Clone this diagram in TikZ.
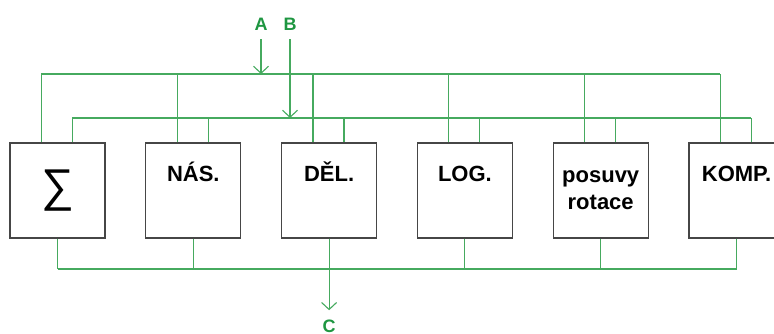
\documentclass[tikz,border=0pt]{standalone}
\usepackage{fontspec}
\setmainfont{Liberation Sans}
\usetikzlibrary{arrows.meta}
\definecolor{busgreen}{RGB}{70,170,95}
\definecolor{labgreen}{RGB}{30,150,65}
\definecolor{boxgray}{RGB}{70,70,70}
\tikzset{
  box/.style={draw=boxgray, line width=1.3pt, minimum width=95pt, minimum height=95pt, inner sep=0pt},
  lbl/.style={font=\fontsize{22}{27}\selectfont\bfseries, anchor=base, align=center, inner sep=0pt},
  siglbl/.style={font=\fontsize{46}{46}\selectfont, inner sep=0pt},
  bus/.style={draw=busgreen, line width=1.1pt},
  arr/.style={bus, -{Straight Barb[length=7pt,width=15pt]}},
  io/.style={font=\fontsize{18}{18}\selectfont\bfseries, text=labgreen, anchor=base, inner sep=3pt}
}
\begin{document}
\begin{tikzpicture}[x=1pt,y=-1pt]
\useasboundingbox (0,0) rectangle (774,333);
\clip (0,0) rectangle (774,333);
% boxes
\node[box] (s1) at (57.5,190.5) {};
\node[box] (s2) at (193.3,190.5) {};
\node[box] (s3) at (329.1,190.5) {};
\node[box] (s4) at (464.9,190.5) {};
\node[box] (s5) at (600.7,190.5) {};
\node[box] (s6) at (736.5,190.5) {};
% labels
\node[siglbl] (t1) at (s1.center) {∑};
\node[lbl] (t2) at ([yshift=-39pt]s2.north) {NÁS.};
\node[lbl] (t3) at ([yshift=-39pt]s3.north) {DĚL.};
\node[lbl] (t4) at ([yshift=-39pt]s4.north) {LOG.};
\node[lbl] (t5) at ([yshift=-67pt]s5.north) {posuvy\\rotace};
\node[lbl] (t6) at ([yshift=-39pt]s6.north) {KOMP.};
% bus levels
\coordinate (busA) at (0,74);
\coordinate (busB) at (0,118);
\coordinate (busC) at (0,269);
% inputs / output labels
\node[io] (labA) at (261,30) {A};
\node[io] (labB) at (290,30) {B};
\node[io] (labC) at (329.1,332) {C};
% taps
\foreach \i in {1,...,6}{
  \draw[bus] ([xshift=32pt]s\i.north west) -- ([xshift=32pt]s\i.north west |- busA);
  \draw[bus] ([xshift=63pt]s\i.north west) -- ([xshift=63pt]s\i.north west |- busB);
  \draw[bus] (s\i.south) -- (s\i.south |- busC);
}
% buses
\draw[bus] ([xshift=32pt]s1.north west |- busA) -- ([xshift=32pt]s6.north west |- busA);
\draw[bus] ([xshift=63pt]s1.north west |- busB) -- ([xshift=63pt]s6.north west |- busB);
\draw[bus] (s1.south |- busC) -- (s6.south |- busC);
% arrows
\draw[arr] ([yshift=-6pt]labA.south) -- (labA.south |- busA);
\draw[arr] ([yshift=-6pt]labB.south) -- (labB.south |- busB);
\draw[arr] (s3.south) -- ([yshift=6pt]labC.north);
\end{tikzpicture}
\end{document}
